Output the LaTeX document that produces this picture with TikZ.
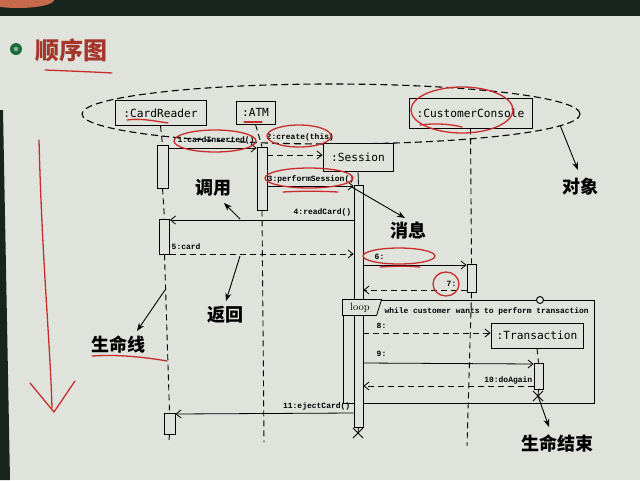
\documentclass[tikz,border=0pt]{standalone}
\usepackage{fontspec}
\usetikzlibrary{arrows.meta,shapes.geometric}
\newfontfamily\cjk{Noto Sans CJK SC}
\newfontfamily\objf{DejaVu Sans Mono}
\newfontfamily\msgf{Liberation Mono}
\definecolor{bg}{RGB}{224,226,220}
\definecolor{redpen}{RGB}{200,45,45}
\definecolor{titlec}{RGB}{165,55,45}
\definecolor{topband}{RGB}{24,36,30}
\definecolor{bullet}{RGB}{25,110,60}
\definecolor{blob}{RGB}{200,105,75}
\begin{document}
\begin{tikzpicture}[x=1pt,y=-1pt,
  obj/.style={draw, line width=0.9pt, fill=bg, font=\objf\fontsize{11.2}{12}\selectfont, inner sep=0pt},
  actbox/.style={draw, line width=0.8pt, fill=bg, inner sep=0pt, minimum width=10pt},
  life/.style={line width=0.9pt, dash pattern=on 6pt off 4pt},
  msg/.style={line width=0.8pt, -{Straight Barb[length=5pt,width=8pt]}},
  ret/.style={msg, dash pattern=on 6pt off 4pt},
  lab/.style={font=\msgf\bfseries\fontsize{8}{9}\selectfont, inner sep=0.5pt},
  cn/.style={font=\cjk\bfseries\fontsize{18}{18}\selectfont, inner sep=0pt},
  note/.style={line width=0.9pt, -{Stealth[length=8pt,width=6pt]}},
  redink/.style={redpen, line width=1.3pt, line cap=round, line join=round},
]
% background
\fill[bg] (0,0) rectangle (640,480);
\useasboundingbox (0,0) rectangle (640,480);
\fill[topband] (0,0) rectangle (640,16);
\fill[blob] (18,0) ellipse [x radius=36, y radius=8];
\fill[topband] (0,110) -- (3,110) -- (10,480) -- (0,480) -- cycle;

% title
\fill[bullet] (16,49) circle (6);
\fill[bullet!50!white] (16,49) circle (2.2);
\node[font=\cjk\bfseries\fontsize{24}{24}\selectfont, text=titlec, inner sep=0pt] (title) at (71,50) {顺序图};
\draw[redink] (45,70) .. controls (70,71) and (95,72) .. (112,73);

% objects ellipse
\node[ellipse, draw, line width=1.1pt, dash pattern=on 7pt off 4pt, minimum width=498pt, minimum height=60pt, inner sep=0pt] (objs) at (331,114) {};

% objects
\node[obj, minimum width=91pt, minimum height=25pt] (cr) at (160.5,113) {:CardReader};
\node[obj, minimum width=39pt, minimum height=23pt] (atm) at (255.5,112.5) {:ATM};
\node[obj, minimum width=123pt, minimum height=30pt] (cc) at (470.5,113) {:CustomerConsole};

% lifeline end points
\coordinate (crEnd) at (169,440);
\coordinate (atmEnd) at (264,442);
\coordinate (ccEnd) at (467,446);
\coordinate (sx) at (358,433);
\coordinate (tx) at (538,396);

% loop frame
\node[draw, line width=0.9pt, minimum width=251pt, minimum height=103pt, inner sep=0pt] (loop) at (468.5,351.5) {};
\draw[line width=0.9pt, fill=bg] (540,300) circle (3.5);

% session and transaction objects
\node[obj, minimum width=70pt, minimum height=28pt] (ses) at (358,157) {:Session};
\node[obj, minimum width=92pt, minimum height=25pt] (tr) at (537,335.5) {:Transaction};

% activations
\node[actbox, minimum width=11pt, minimum height=43pt] (cr1) at (162.5,166.5) {};
\node[actbox, minimum height=35pt] (cr2) at (164.5,236.5) {};
\node[actbox, minimum width=11pt, minimum height=21pt] (cr3) at (169.5,423.5) {};
\node[actbox, minimum height=63pt] (atm1) at (262,178.5) {};
\node[actbox, minimum width=9pt, minimum height=242pt] (ses1) at (358.5,306) {};
\node[actbox, minimum width=9pt, minimum height=28pt] (cc1) at (471.5,278) {};
\node[actbox, minimum width=9pt, minimum height=26pt] (tr1) at (538.5,376) {};

% loop tag (over the activation)
\draw[line width=0.8pt, fill=bg] (loop.north west) -- ++(39,0) -- ++(-5,16) -- ++(-34,0) -- cycle;
\node[font=\fontsize{10.5}{10}\selectfont, inner sep=0pt] (looplab) at (360,308) {loop};
\node[lab, anchor=west, font=\msgf\bfseries\fontsize{7.9}{9}\selectfont] (guard) at (384,311) {while customer wants to perform transaction};

% lifelines
\draw[life] (cr.south) -- (cr1.north);
\draw[life] (cr1.south) -- (cr2.north);
\draw[life] (cr2.south) -- (cr3.north);
\draw[life] (cr3.south) -- (crEnd);
\draw[life] (atm.south) -- (atm1.north);
\draw[life] (atm1.south) -- (atmEnd);
\draw[line width=0.8pt] (ses.south) -- (ses1.north);
\draw[line width=0.8pt] (ses1.south) -- (sx);
\draw[life] (cc.south) -- (cc1.north);
\draw[life] (cc1.south) -- (ccEnd);
\draw[life] (tr.south) -- (tr1.north);
\draw[line width=0.8pt] (tr1.south) -- (tx);
\draw[line width=1pt] (sx) ++(-5,-5) -- ++(10,10) ++(-10,0) -- ++(10,-10);
\draw[line width=1pt] (tx) ++(-5,-5) -- ++(10,10) ++(-10,0) -- ++(10,-10);

% messages
\draw[msg] (cr1.east |- 0,148) -- (atm1.west |- 0,148);
\node[lab, anchor=south west] (m1) at (177,145) {1:cardInserted()};
\draw[ret] (atm1.east |- 0,155) -- (ses.west |- 0,155);
\node[lab, anchor=west] (m2) at (266,137) {2:create(this)};
\draw[msg] (atm1.east |- 0,186) -- (ses1.west |- 0,186);
\node[lab, anchor=west] (m3) at (267,179) {3:performSession()};
\draw[msg] (ses1.west |- 0,220) -- (cr2.east |- 0,220);
\node[lab, anchor=east] (m4) at (352,212) {4:readCard()};
\draw[ret] (cr2.east |- 0,254) -- (ses1.west |- 0,254);
\node[lab, anchor=west] (m5) at (171,247) {5:card};
\draw[msg] (ses1.east |- 0,265) -- (cc1.west |- 0,265);
\node[lab, anchor=west] (m6) at (374,257) {6:};
\draw[ret] (cc1.west |- 0,290) -- (ses1.east |- 0,290);
\node[lab, anchor=west] (m7) at (446,284) {7:};
\draw[ret] (ses1.east |- 0,333) -- (tr.west |- 0,333);
\node[lab, anchor=west] (m8) at (376,326) {8:};
\draw[msg] (ses1.east |- 0,363) -- (tr1.west |- 0,364);
\node[lab, anchor=west] (m9) at (376,354) {9:};
\draw[ret] (tr1.west |- 0,386) -- (ses1.east |- 0,386);
\node[lab, anchor=east] (m10) at (533,380) {10:doAgain};
\draw[msg] (ses1.west |- 0,413) -- (cr3.east |- 0,414);
\node[lab, anchor=east] (m11) at (351,406) {11:ejectCard()};

% black annotations
\node[cn] (tObj) at (580,187) {对象};
\node[cn] (tCall) at (213,188) {调用};
\node[cn] (tMsg) at (408,231) {消息};
\node[cn] (tRet) at (225,315) {返回};
\node[cn] (tLife) at (118,345) {生命线};
\node[cn] (tEnd) at (557,443) {生命结束};
\coordinate (aCall) at (240,219);
\coordinate (aMsg) at (350,186);
\coordinate (aRet) at (240,256);
\coordinate (aLife) at (165,290);
\draw[note] (objs.-3.3) -- (578,170);
\draw[note] (aCall) -- (224,203);
\draw[note] (aMsg) -- (405,218);
\draw[note] (aRet) -- (226,301);
\draw[note] (aLife) -- (137,331);
\draw[note] (tx) -- (549,427);

% red pen annotations
\draw[redink] (127,120) .. controls (140,118) and (155,121) .. (168,123);
\draw[redink] (244,122) -- (262,122);
\draw[redink] (215,141) ellipse [x radius=41, y radius=11];
\draw[redink] (299,136) ellipse [x radius=32, y radius=11];
\draw[redink] (309,178) ellipse [x radius=44, y radius=10];
\draw[redink] (283,192) .. controls (300,191) and (320,191) .. (338,192);
\draw[redink] (462,110) ellipse [x radius=51, y radius=23];
\draw[redink] (420,125) .. controls (435,123) and (450,124) .. (462,127);
\draw[redink] (399,256) ellipse [x radius=36, y radius=8];
\draw[redink] (380,267) .. controls (395,266) and (410,266) .. (420,267);
\draw[redink] (446,284) ellipse [x radius=13, y radius=12];
\draw[redink] (92,356) .. controls (120,354) and (150,358) .. (167,361);
\draw[redink] (39,140) .. controls (42,260) and (50,340) .. (52,408);
\draw[redink] (30,383) -- (54,412) -- (75,381);
\end{tikzpicture}
\end{document}
